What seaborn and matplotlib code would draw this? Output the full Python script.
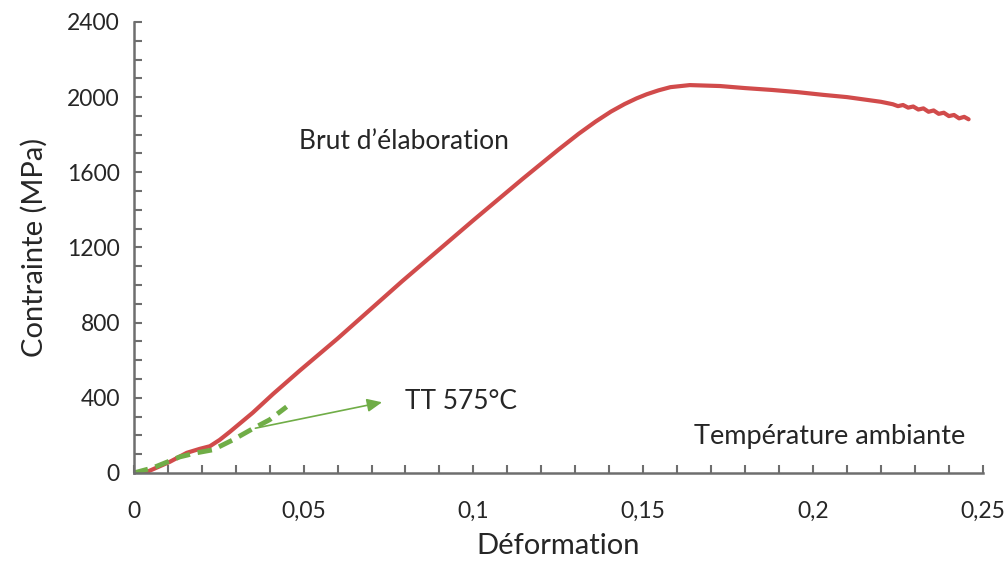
import matplotlib
matplotlib.use("Agg")
import matplotlib.pyplot as plt
from matplotlib.ticker import MultipleLocator, FuncFormatter
import pandas as pd
import seaborn as sns

# courbe brut d'elaboration
brut_def = [0.0, 0.0032, 0.0106, 0.0156, 0.0194, 0.0224, 0.0253, 0.0283, 0.035,
            0.041, 0.0489, 0.060, 0.079, 0.100, 0.1145, 0.1250, 0.1310, 0.1360,
            0.1405, 0.1445, 0.148, 0.151, 0.1545, 0.158, 0.1637, 0.1726, 0.1800,
            0.1880, 0.1952, 0.2030, 0.2100, 0.2160, 0.2200, 0.2235, 0.2250,
            0.2265, 0.2280, 0.2295, 0.2310, 0.2325, 0.2340, 0.2355, 0.2370,
            0.2385, 0.2400, 0.2415, 0.2430, 0.2445, 0.2458]
brut_contr = [0, 0, 59, 107, 128, 142, 176, 219, 320,
              420, 545, 715, 1020, 1345, 1565, 1720, 1805, 1870,
              1923, 1963, 1993, 2015, 2036, 2053, 2064, 2059, 2048,
              2038, 2027, 2012, 2000, 1985, 1975, 1962, 1952,
              1958, 1944, 1950, 1934, 1940, 1922, 1929, 1911,
              1917, 1899, 1905, 1887, 1895, 1882]

# courbe TT 575 C (pointilles)
tt_def = [0.0, 0.0056, 0.0135, 0.0185, 0.0233, 0.0292, 0.035, 0.040, 0.045]
tt_contr = [0, 27, 85, 107, 123, 176, 235, 283, 352]

xticks = [0, 0.05, 0.1, 0.15, 0.2, 0.25]
yticks = [0, 400, 800, 1200, 1600, 2000, 2400]

sns.set_style("white")
plt.rcParams['font.family'] = ['Lato', 'DejaVu Sans']

red = "#d14b4b"
green = "#70ad47"
txt = "#262626"

fig, ax = plt.subplots(figsize=(10.06, 5.63), dpi=100)
fig.subplots_adjust(left=0.133, right=0.977, bottom=0.160, top=0.961)

df_b = pd.DataFrame({"def": brut_def, "c": brut_contr})
df_t = pd.DataFrame({"def": tt_def, "c": tt_contr})
sns.lineplot(data=df_b, x="def", y="c", ax=ax, color=red, lw=3, sort=False)
sns.lineplot(data=df_t, x="def", y="c", ax=ax, color=green, lw=3.5,
             linestyle=(0, (3, 1.6)), sort=False)

ax.annotate("", xy=(0.0739, 379), xytext=(0.035, 235),
            arrowprops=dict(arrowstyle="-|>,head_length=0.9,head_width=0.4",
                            color=green, lw=1.2))
ax.text(0.0800, 379, "TT 575°C", fontsize=19, color=txt, va="center", ha="left")
ax.text(0.0485, 1765, "Brut d\u2019élaboration", fontsize=19, color=txt,
        va="center", ha="left")
ax.text(0.2448, 195, "Température ambiante", fontsize=19.5, color=txt,
        va="center", ha="right")

ax.set_xlim(0, 0.25)
ax.set_ylim(0, 2400)
ax.set_xticks(xticks)
ax.set_yticks(yticks)
ax.xaxis.set_minor_locator(MultipleLocator(0.01))
ax.yaxis.set_minor_locator(MultipleLocator(100))
ax.xaxis.set_major_formatter(FuncFormatter(lambda v, p: ("%g" % v).replace(".", ",")))
ax.tick_params(axis="both", which="both", direction="in", length=6, width=1.5,
               color="#6e6e6e", labelsize=16.5, labelcolor=txt,
               bottom=True, left=True)
ax.tick_params(axis="x", which="major", pad=20)
ax.tick_params(axis="y", which="major", pad=10)

for s in ["top", "right"]:
    ax.spines[s].set_visible(False)
for s in ["left", "bottom"]:
    ax.spines[s].set_color("#6e6e6e")
    ax.spines[s].set_linewidth(1.8)

ax.set_xlabel("Déformation", fontsize=21, color=txt, labelpad=8)
ax.set_ylabel("Contrainte (MPa)", fontsize=21, color=txt, labelpad=14)

fig.savefig("out.png", dpi=100)
